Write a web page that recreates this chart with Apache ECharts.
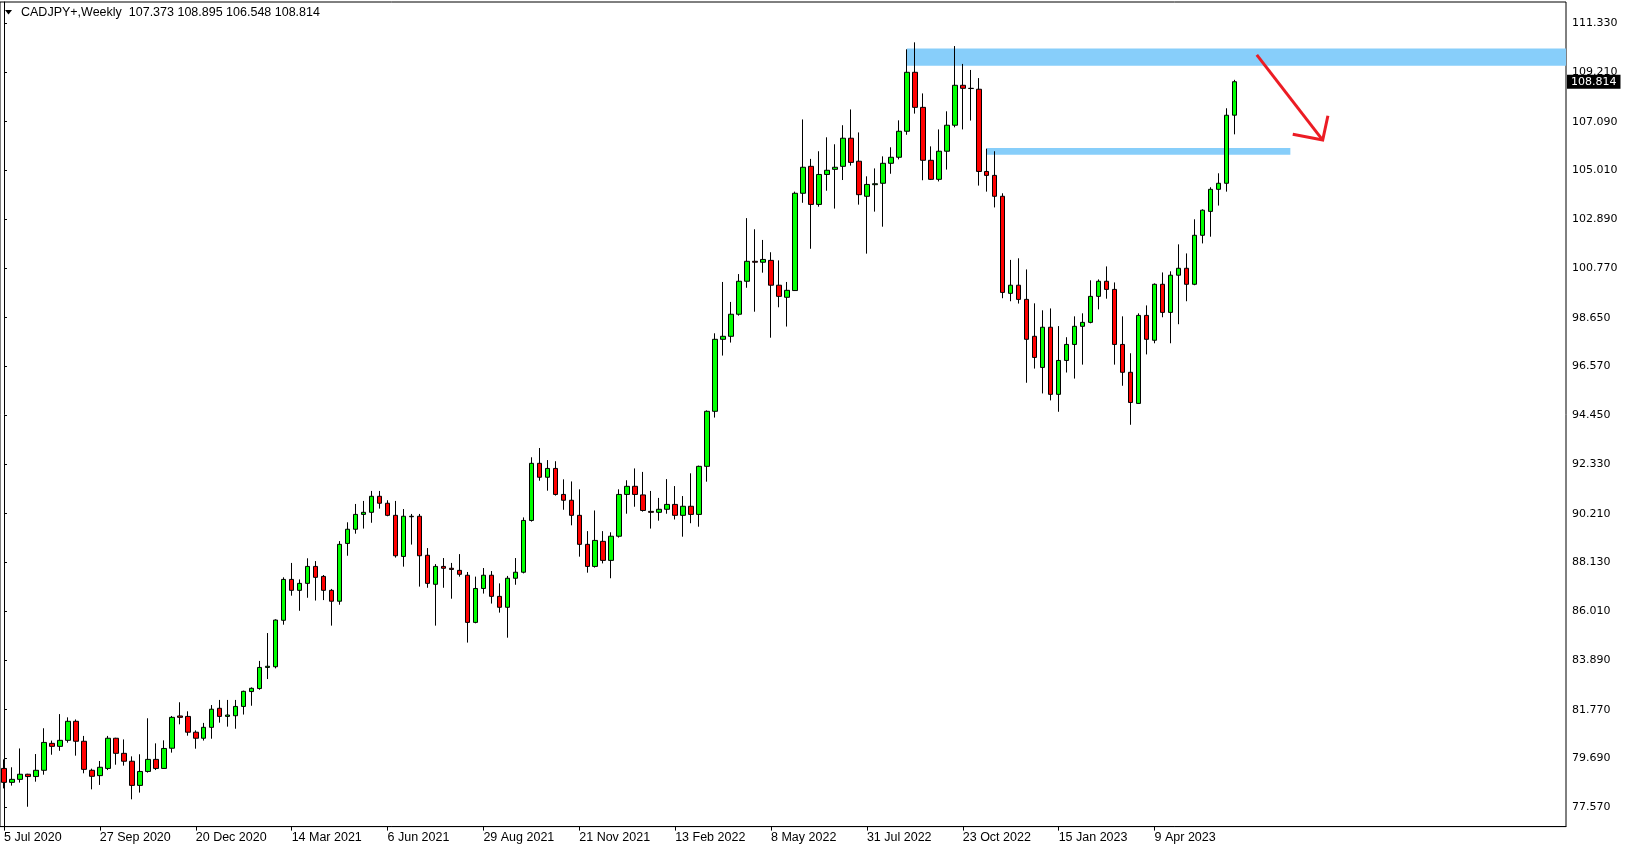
<!DOCTYPE html>
<html><head><meta charset="utf-8">
<script src="https://cdn.jsdelivr.net/npm/echarts@6/dist/echarts.min.js"></script>
<style>html,body{margin:0;padding:0;background:#fff}#c{width:1629px;height:850px}</style>
</head><body><div id="c"></div>
<script>
// ---- data ----
const symbolName = 'CADJPY+,Weekly';
const startDate = [2020, 6, 5]; // 5 Jul 2020, weekly bars
const N_SLOTS = 196;
const opens = [79.24,78.64,78.77,78.99,78.89,79.16,80.32,80.19,80.45,81.27,80.41,79.16,78.93,79.24,80.54,79.89,79.55,78.51,79.11,79.63,
79.24,80.11,81.50,81.48,80.80,80.54,81.01,81.83,81.48,81.51,81.91,82.55,82.68,83.59,83.62,85.62,87.38,86.91,87.21,87.94,
87.51,86.91,86.44,88.93,89.54,90.18,90.27,90.96,90.66,90.14,88.37,90.08,90.10,88.42,87.17,87.94,87.86,87.77,87.56,85.53,
86.99,87.56,86.65,86.18,87.43,87.69,89.92,92.38,91.78,92.16,91.04,90.79,90.14,88.89,87.94,89.02,88.20,89.24,91.04,91.39,
91.02,90.31,90.27,90.40,90.61,90.14,90.53,90.18,92.25,94.62,97.72,97.85,98.80,100.22,101.08,101.04,101.12,100.05,99.53,99.82,
104.01,105.17,103.53,104.82,105.04,105.17,106.38,105.39,103.88,104.38,104.44,105.30,105.56,106.68,109.22,107.71,105.43,104.61,105.82,106.94,
108.66,108.53,108.49,104.95,104.78,103.88,99.70,100.05,99.44,97.85,96.51,98.24,95.35,96.81,97.50,98.28,98.45,99.57,100.22,99.87,
97.50,96.30,94.96,98.75,97.68,100.09,98.88,100.48,100.78,100.09,102.20,103.23,104.18,104.44,107.373];
const highs = [79.63,79.29,80.10,79.01,79.86,80.97,80.44,81.58,81.44,81.35,80.64,79.23,79.56,80.64,80.56,80.49,79.76,79.85,81.40,80.32,
80.45,81.50,82.09,81.70,80.88,81.20,81.97,82.19,82.19,82.19,82.59,82.73,83.87,85.07,85.66,87.47,88.09,87.38,88.29,88.17,
87.57,86.97,89.03,89.84,90.63,90.76,91.19,91.19,90.79,90.76,90.41,90.20,90.20,88.73,88.04,88.30,88.09,88.47,87.70,87.50,
87.87,87.74,87.21,87.53,88.30,90.05,92.64,93.04,92.52,92.47,91.69,91.60,91.26,89.46,90.35,89.46,89.41,91.26,91.65,92.16,
92.01,91.19,90.89,91.70,91.40,90.97,91.95,92.28,94.66,97.98,100.19,99.33,100.53,102.94,102.46,102.00,101.47,101.12,100.19,104.08,
107.19,105.49,105.82,106.42,106.12,106.94,107.62,106.63,104.74,105.08,105.60,105.99,107.15,110.21,110.51,108.31,106.03,106.76,107.54,110.35,
109.58,109.32,108.97,105.93,105.82,104.01,101.14,101.21,100.73,99.27,98.97,99.05,98.29,97.81,98.71,98.84,100.26,100.30,100.86,100.17,
98.71,97.12,98.84,99.18,100.13,100.60,100.65,101.81,101.42,102.89,103.32,104.27,104.87,107.67,108.895];
const lows = [78.38,78.50,78.63,77.59,78.67,78.97,79.83,80.00,80.35,79.79,79.03,78.34,78.53,79.17,79.40,79.36,77.91,78.20,79.06,79.17,
79.22,79.92,81.14,80.65,80.09,80.44,80.52,81.21,81.04,80.95,81.56,81.94,82.63,83.09,83.55,85.43,86.68,86.03,86.59,86.47,
86.49,85.39,86.29,88.40,89.35,89.57,89.82,90.43,90.10,88.32,87.93,88.88,87.07,87.02,85.39,87.02,86.55,87.50,84.66,85.49,
86.77,86.34,85.95,84.87,87.15,87.64,89.87,91.63,91.20,90.99,90.38,89.71,88.36,87.67,87.89,88.07,87.43,89.18,90.21,90.51,
90.30,89.57,89.91,90.21,89.96,89.22,89.80,89.65,91.59,94.35,97.02,97.58,98.74,99.94,98.91,100.59,97.79,99.10,98.27,99.80,
103.60,101.62,103.43,104.12,103.35,104.58,105.20,103.52,101.41,103.22,102.57,104.85,105.47,106.53,107.44,104.57,104.58,104.52,105.03,106.85,
106.76,107.14,104.34,104.08,103.40,99.49,99.36,99.26,95.85,96.46,95.39,95.09,94.60,96.29,96.03,96.63,98.41,99.01,99.47,96.63,
95.72,94.04,94.95,97.07,97.55,98.67,97.55,98.37,99.36,100.05,101.85,102.14,103.48,104.08,106.548];
const closes = [78.64,78.77,78.99,78.89,79.16,80.36,80.19,80.45,81.27,80.41,79.20,78.90,79.29,80.54,79.89,79.55,78.51,79.11,79.63,79.24,
80.10,81.44,81.44,80.80,80.54,81.01,81.79,81.48,81.54,81.91,82.56,82.69,83.59,83.64,85.63,87.38,86.91,87.21,87.94,87.47,
86.91,86.44,88.89,89.54,90.18,90.27,90.96,90.66,90.14,88.40,90.10,90.10,88.40,87.21,87.94,87.86,87.81,87.60,85.53,86.99,
87.56,86.65,86.18,87.43,87.69,89.92,92.38,91.78,92.16,91.04,90.79,90.14,88.89,87.94,89.06,88.20,89.24,91.04,91.39,91.04,
90.35,90.27,90.40,90.61,90.14,90.53,90.18,92.25,94.62,97.72,97.85,98.80,100.22,101.08,101.04,101.16,100.05,99.57,99.83,104.01,
105.13,103.53,104.82,105.00,105.13,106.38,105.34,103.95,104.39,104.42,105.30,105.56,106.68,109.22,107.71,105.43,104.61,105.82,106.94,108.66,
108.53,108.52,104.95,104.78,103.88,99.74,100.05,99.44,97.72,96.94,98.24,95.35,96.81,97.50,98.28,98.45,99.57,100.22,99.87,97.50,
96.30,95.00,98.75,97.72,100.09,98.88,100.48,100.78,100.09,102.20,103.28,104.18,104.44,107.37,108.814];
const tickLabels = ['5 Jul 2020','27 Sep 2020','20 Dec 2020','14 Mar 2021','6 Jun 2021','29 Aug 2021','21 Nov 2021',
'13 Feb 2022','8 May 2022','31 Jul 2022','23 Oct 2022','15 Jan 2023','9 Apr 2023'];
const yTicks = [77.57,79.69,81.77,83.89,86.01,88.13,90.21,92.33,94.45,96.57,98.65,100.77,102.89,105.01,107.09,109.21,111.33];
// supply/demand zones (bar index where they start / end, price top / bottom); null end = to the right edge
const zoneStart = [113, 123];
const zoneEnd = [null, 161];
const zoneTop = [110.24, 105.96];
const zoneBottom = [109.50, 105.67];
// hand-drawn arrow (bar index, price)
const arrowShaft = [[156.8, 109.97], [165.05, 106.30]];
const arrowHead = [[161.3, 106.55], [165.05, 106.30], [165.7, 107.35]];

// ---- build ----
const MON = ['Jan','Feb','Mar','Apr','May','Jun','Jul','Aug','Sep','Oct','Nov','Dec'];
const t0 = Date.UTC(startDate[0], startDate[1], startDate[2]);
const categories = [];
for (let i = 0; i < N_SLOTS; i++) {
  const d = new Date(t0 + i * 7 * 86400000);
  categories.push(d.getUTCDate() + ' ' + MON[d.getUTCMonth()] + ' ' + d.getUTCFullYear());
}
const candleData = opens.map((o, i) => [o, closes[i], lows[i], highs[i]]);
const showLabel = (idx) => tickLabels.indexOf(categories[idx]) >= 0;
const last = opens.length - 1;

const chart = echarts.init(document.getElementById('c'), null, {renderer: 'canvas'});
chart.setOption({
  animation: false,
  backgroundColor: '#fff',
  grid: {left: 0, right: 63, top: 2, bottom: 23.4, show: true, borderColor: '#000', borderWidth: 1, backgroundColor: '#fff'},
  xAxis: [{
    type: 'category', data: categories, boundaryGap: true,
    axisLine: {show: true, lineStyle: {color: '#000', width: 1}},
    axisTick: {show: true, alignWithLabel: true, interval: showLabel, length: 4, lineStyle: {color: '#000'}},
    axisLabel: {show: true, interval: showLabel, align: 'left', margin: 4, color: '#000', fontFamily: 'Liberation Sans', fontSize: 12.5},
    splitLine: {show: false}
  }, {
    type: 'value', min: -0.5, max: N_SLOTS - 0.5, show: false
  }],
  yAxis: {
    type: 'value', position: 'right', min: 76.735, max: 112.247,
    axisLine: {show: true, lineStyle: {color: '#000'}},
    axisTick: {show: true, customValues: yTicks, length: 3, lineStyle: {color: '#000'}},
    axisLabel: {show: true, customValues: yTicks, formatter: v => v.toFixed(3), margin: 6, color: '#000', fontFamily: 'DejaVu Sans', fontSize: 11},
    splitLine: {show: false}
  },
  graphic: [
    {type: 'polygon', shape: {points: [[5, 10], [12, 10], [8.5, 14.5]]}, style: {fill: '#000'}, z: 100},
    {type: 'text', x: 21, y: 12.5, z: 100, style: {
      text: symbolName + '  ' + [opens[last], highs[last], lows[last], closes[last]].map(v => v.toFixed(3)).join(' '),
      fontFamily: 'Liberation Sans', fontSize: 12.5, fill: '#000', verticalAlign: 'middle'}}
  ],
  series: [{
    type: 'custom', xAxisIndex: 1, yAxisIndex: 0, z: 1, silent: true,
    data: zoneStart.map((s, k) => [s, zoneTop[k]]),
    renderItem: function (params, api) {
      const k = params.dataIndex;
      const cs = params.coordSys;
      const p1 = api.coord([zoneStart[k], zoneTop[k]]);
      const yb = api.coord([zoneStart[k], zoneBottom[k]])[1];
      const x2 = zoneEnd[k] == null ? cs.x + cs.width : api.coord([zoneEnd[k], zoneBottom[k]])[0];
      return {type: 'rect', shape: {x: p1[0], y: p1[1], width: x2 - p1[0], height: yb - p1[1]}, style: {fill: '#87cefa'}};
    }
  }, {
    type: 'candlestick', xAxisIndex: 0, yAxisIndex: 0, z: 3, barWidth: 5,
    data: candleData,
    itemStyle: {color: '#00ff00', color0: '#ff0000', borderColor: '#000', borderColor0: '#000', borderColorDoji: '#000', borderWidth: 1}
  }, {
    type: 'custom', xAxisIndex: 1, yAxisIndex: 0, z: 5, silent: true,
    data: [[arrowShaft[0][0], arrowShaft[0][1]]],
    renderItem: function (params, api) {
      return {type: 'group', children: [
        {type: 'polyline', shape: {points: arrowShaft.map(p => api.coord(p))}, style: {stroke: '#ec1c24', lineWidth: 3, fill: null}},
        {type: 'polyline', shape: {points: arrowHead.map(p => api.coord(p))}, style: {stroke: '#ec1c24', lineWidth: 3, fill: null}}
      ]};
    }
  }, {
    // current price label on the price scale
    type: 'custom', xAxisIndex: 1, yAxisIndex: 0, z: 10, silent: true, clip: false,
    data: [[last, closes[last]]],
    renderItem: function (params, api) {
      const cs = params.coordSys;
      const y = api.coord([last, closes[last]])[1];
      return {type: 'text', x: cs.x + cs.width + 1, y: y, style: {
        text: closes[last].toFixed(3), fill: '#fff', backgroundColor: '#000', padding: [2, 4, 1, 4],
        fontFamily: 'DejaVu Sans', fontSize: 11, verticalAlign: 'middle', align: 'left'}};
    }
  }]
});
</script></body></html>
